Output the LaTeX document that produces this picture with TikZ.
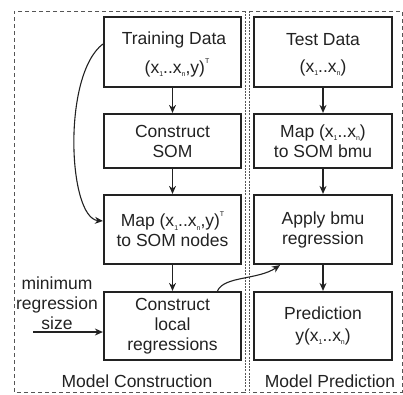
\documentclass[tikz,border=0pt]{standalone}
\usepackage{fontspec}
\setmainfont{Liberation Sans}
\usetikzlibrary{arrows.meta}
\newcommand{\sbs}[1]{\raisebox{-0.35ex}{\fontsize{7}{7}\selectfont #1}}
\newcommand{\sps}[1]{\raisebox{1.1ex}{\fontsize{7}{7}\selectfont #1}}
\definecolor{ink}{HTML}{222222}
\definecolor{frame}{HTML}{555555}
\begin{document}
\begin{tikzpicture}[x=1pt,y=-1pt,
  box/.style={draw=ink,line width=2.2pt,minimum width=137pt,inner sep=0pt,text=ink,align=center,font=\fontsize{17.5}{20}\selectfont},
  lbl/.style={text=ink,align=center,font=\fontsize{17.5}{20}\selectfont,inner sep=0pt},
  arr/.style={draw=ink,line width=1.1pt,-{Stealth[length=8pt,width=7pt]}},
  frm/.style={draw=frame,line width=0.9pt,dash pattern=on 4pt off 3pt},
  sep/.style={draw=frame,line width=1.2pt,dash pattern=on 2pt off 1.2pt}]
\useasboundingbox (0,0) rectangle (403,394);
% frames
\draw[frm] (246,11) -- (14,11) -- (14,392) -- (246,392);
\draw[frm] (249,11) -- (402,11) -- (402,392) -- (249,392);
\draw[sep] (245.5,11) -- (245.5,392);
\draw[sep] (249.5,11) -- (249.5,392);
% left column
\node[box,minimum height=70pt] (td) at (172.5,52) {};
\node[lbl] (tdt) at (174,40) {Training Data};
\node[lbl] (tdx) at (177,68) {(x\sbs{1}..x\sbs{n},y)\sps{T}};
\node[box,minimum height=54pt] (cs) at (172.5,141) {Construct\\SOM};
\node[box,minimum height=69pt] (mp) at (172.5,229.5) {Map (x\sbs{1}..x\sbs{n},y)\sps{T}\\to SOM nodes};
\node[box,minimum height=68pt] (cl) at (172.5,326) {Construct\\local\\regressions};
% right column
\node[box,minimum width=138pt,minimum height=70pt] (ts) at (323,52) {};
\node[lbl] (tst) at (323,40) {Test Data};
\node[lbl] (tsx) at (323,68) {(x\sbs{1}..x\sbs{n})};
\node[box,minimum width=138pt,minimum height=54pt] (mb) at (323,141) {Map (x\sbs{1}..x\sbs{n})\\to SOM bmu};
\node[box,minimum width=138pt,minimum height=69pt] (ab) at (323,229.5) {Apply bmu\\regression};
\node[box,minimum width=138pt,minimum height=68pt] (pr) at (323,326) {Prediction\\[2pt]y(x\sbs{1}..x\sbs{n})};
% side label
\node[lbl] (mrs) at (57,303) {minimum\\regression\\size};
\coordinate (mrsin) at (33,332);
% bottom labels
\node[lbl] (mc) at (137,381) {Model Construction};
\node[lbl] (mpd) at (330,381) {Model Prediction};
% arrows
\draw[arr] (td.south) -- (cs.north);
\draw[arr] (cs.south) -- (mp.north);
\draw[arr] (mp.south) -- (cl.north);
\draw[arr] (ts.south) -- (mb.north);
\draw[arr] (mb.south) -- (ab.north);
\draw[arr] (ab.south) -- (pr.north);
\draw[arr] (mrsin) -- (mrsin -| cl.west);
\draw[arr] ([yshift=8pt]td.west) .. controls (62,75) and (68,218) .. ([yshift=8.5pt]mp.west);
\draw[arr] ([xshift=45pt]cl.north) .. controls (224,276) and (258,280) .. ([xshift=-43pt]ab.south);
\end{tikzpicture}
\end{document}
